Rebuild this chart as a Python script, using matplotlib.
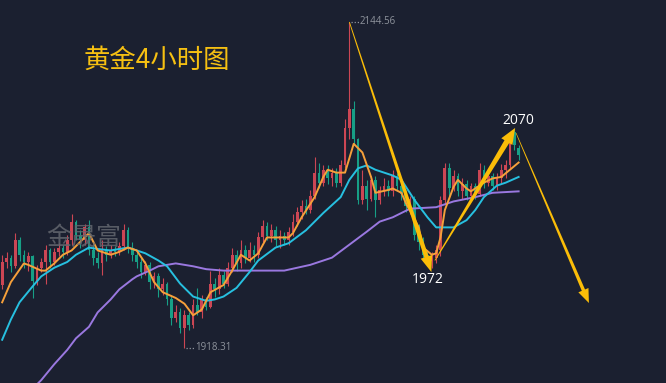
import numpy as np
import matplotlib
matplotlib.use("Agg")
import matplotlib.pyplot as plt
from matplotlib.patches import Polygon

# 4h gold candles, oldest first (prices)
opens = [1962, 1978, 1981, 1975, 1993, 1983, 1978, 1982, 1965, 1974,
         1978, 1986, 1978, 1985, 1988, 1985, 1993, 2006, 1997, 1993,
         2002, 1986, 1981, 1977, 1986, 1983, 1986, 1985, 1989, 2000,
         1988, 1983, 1978, 1971, 1976, 1964, 1968, 1959, 1963, 1952,
         1939, 1943, 1932, 1941, 1934, 1948, 1943, 1952, 1947, 1963,
         1959, 1969, 1963, 1974, 1983, 1977, 1986, 1981, 1986, 1983,
         1995, 2003, 1996, 2000, 1993, 1996, 1993, 1999, 2006, 2013,
         2017, 2014, 2024, 2040, 2033, 2042, 2036, 2040, 2033, 2045,
         2071, 2084, 2063, 2021, 2031, 2022, 2035, 2021, 2028, 2031,
         2027, 2038, 2031, 2025, 2017, 2022, 1997, 1992, 1983, 1979,
         1981, 1986, 2021, 2043, 2029, 2038, 2027, 2032, 2024, 2031,
         2025, 2042, 2033, 2038, 2031, 2036, 2042, 2045, 2068, 2057]
closes = [1978, 1981, 1975, 1993, 1983, 1978, 1982, 1965, 1974, 1978,
          1986, 1978, 1985, 1988, 1985, 1993, 2006, 1997, 1993, 2002,
          1986, 1981, 1977, 1986, 1983, 1986, 1985, 1989, 2000, 1988,
          1983, 1978, 1971, 1976, 1964, 1968, 1959, 1963, 1952, 1939,
          1943, 1932, 1941, 1934, 1948, 1943, 1952, 1947, 1963, 1959,
          1969, 1963, 1974, 1983, 1977, 1986, 1981, 1986, 1983, 1995,
          2003, 1996, 2000, 1993, 1996, 1993, 1999, 2006, 2013, 2017,
          2014, 2024, 2040, 2033, 2042, 2036, 2040, 2033, 2045, 2071,
          2084, 2063, 2021, 2031, 2022, 2035, 2021, 2028, 2031, 2027,
          2038, 2031, 2025, 2017, 2022, 1997, 1992, 1983, 1979, 1981,
          1986, 2021, 2043, 2029, 2038, 2027, 2032, 2024, 2031, 2025,
          2042, 2033, 2038, 2031, 2036, 2042, 2045, 2066, 2059, 2052]
highs = [1983, 1985, 1983, 1998, 1995, 1986, 1985, 1983, 1976, 1981,
         1990, 1988, 1988, 1991, 1990, 1997, 2011, 2007, 2000, 2004,
         2007, 1990, 1985, 1993, 1989, 1990, 1989, 1992, 2004, 2002,
         1992, 1986, 1981, 1979, 1978, 1971, 1970, 1967, 1964, 1955,
         1948, 1946, 1945, 1943, 1952, 1960, 1955, 1954, 1972, 1967,
         1974, 1972, 1978, 1988, 1986, 1993, 1990, 1992, 1990, 1999,
         2007, 2006, 2004, 2003, 2000, 1999, 2002, 2011, 2016, 2021,
         2022, 2028, 2051, 2047, 2045, 2045, 2043, 2043, 2049, 2077,
         2144.56, 2090, 2064, 2042, 2035, 2038, 2038, 2031, 2036, 2035,
         2042, 2040, 2033, 2028, 2024, 2024, 2004, 1995, 1986, 1985,
         1990, 2024, 2047, 2047, 2042, 2040, 2036, 2035, 2033, 2033,
         2047, 2045, 2040, 2040, 2040, 2046, 2049, 2068, 2070, 2059]
lows = [1959, 1974, 1971, 1974, 1979, 1974, 1972, 1953, 1962, 1971,
        1963, 1974, 1976, 1982, 1981, 1983, 1990, 1993, 1988, 1990,
        1983, 1976, 1974, 1969, 1979, 1981, 1982, 1983, 1986, 1984,
        1979, 1974, 1967, 1969, 1959, 1960, 1954, 1955, 1948, 1934,
        1936, 1929, 1918.31, 1931, 1932, 1941, 1939, 1945, 1946, 1954,
        1956, 1960, 1961, 1971, 1972, 1974, 1977, 1978, 1978, 1981,
        1992, 1993, 1992, 1989, 1988, 1990, 1990, 1996, 2003, 2008,
        2011, 2012, 2022, 2029, 2031, 2032, 2031, 2030, 2031, 2043,
        2063, 2059, 2018, 2018, 2014, 2020, 2009, 2018, 2024, 2024,
        2024, 2028, 2021, 2013, 2011, 1993, 1986, 1981, 1975, 1974,
        1977, 1982, 2018, 2024, 2027, 2024, 2022, 2021, 2021, 2022,
        2024, 2029, 2031, 2028, 2028, 2033, 2036, 2043, 2056, 2049]

# moving averages as seen on the chart (bar index, price)
ma_fast_idx = [0, 2, 5, 6, 9, 10, 12, 14, 16, 19, 20, 21, 22, 25, 27, 29, 31, 33, 35, 37,
               40, 42, 44, 46, 48, 51, 53, 55, 57, 59, 61, 63, 66, 67, 69, 72, 74, 75, 77, 79,
               81, 83, 85, 86, 89, 90, 92, 93, 96, 97, 99, 100, 101, 102, 104, 105, 107, 108,
               111, 113, 115, 117, 119]
ma_fast = [1950, 1964, 1977, 1976, 1972, 1972, 1977, 1983, 1986, 1995, 1998, 1992, 1986, 1983,
           1985, 1988, 1986, 1977, 1964, 1957, 1953, 1949, 1941, 1945, 1957, 1962, 1972, 1983,
           1979, 1984, 1995, 1995, 1995, 1998, 2009, 2023, 2037, 2042, 2040, 2040, 2060, 2054,
           2037, 2026, 2028, 2029, 2026, 2019, 2002, 1988, 1983, 1984, 1995, 2014, 2030, 2035,
           2029, 2027, 2033, 2036, 2037, 2042, 2047]
ma_mid_idx = [0, 2, 4, 7, 9, 12, 15, 17, 20, 22, 25, 29, 31, 33, 36, 38, 41, 44, 47, 49,
              51, 54, 57, 59, 63, 66, 70, 74, 78, 80, 82, 84, 86, 90, 92, 95, 98, 100, 104,
              107, 109, 111, 114, 116, 119]
ma_mid = [1924, 1938, 1950, 1961, 1968, 1974, 1978, 1983, 1988, 1987, 1986, 1988, 1986, 1984,
          1979, 1975, 1963, 1954, 1951, 1952, 1954, 1960, 1971, 1979, 1988, 1991, 2000, 2012,
          2023, 2035, 2043, 2045, 2042, 2038, 2035, 2021, 2009, 2002, 2002, 2007, 2014, 2023,
          2031, 2033, 2037]
ma_slow_idx = [8, 9, 12, 15, 17, 20, 22, 25, 27, 30, 31, 34, 36, 40, 44, 47, 51, 58, 65, 71,
               76, 80, 84, 87, 90, 94, 100, 104, 109, 113, 119]
ma_slow = [1893, 1896, 1907, 1917, 1925, 1933, 1943, 1952, 1959, 1966, 1968, 1972, 1975, 1977,
           1975, 1973, 1972, 1972, 1972, 1976, 1981, 1990, 1999, 2006, 2009, 2015, 2016, 2020,
           2023, 2026, 2027]

# hand-drawn swing arrows (bar index, price)
arrow_from = [(80, 2144.56), (99.7, 1979), (118.4, 2067.5)]
arrow_to = [(98.9, 1971), (118.2, 2071), (135.2, 1949.5)]
swing_labels = ["1972", "2070"]
swing_label_pos = [(98.1, 1965.5), (118.9, 2076)]

BG = "#1b2030"
RED = "#cc4654"
GREEN = "#179f86"
AMBER = "#fbbd08"
GREY = "#8e939c"

fig = plt.figure(figsize=(6.66, 3.83), dpi=100, facecolor=BG)
ax = fig.add_axes([0, 0, 1, 1])
ax.set_facecolor(BG)
ax.set_xlim(-0.5, 152.96)
ax.set_ylim(1894.0, 2159.8)
ax.axis("off")

o = np.array(opens, dtype=float)
c = np.array(closes, dtype=float)
h = np.array(highs, dtype=float)
l = np.array(lows, dtype=float)
x = np.arange(len(c))
cols = np.where(c >= o, RED, GREEN)

ax.vlines(x, l, h, colors=cols, lw=0.8, zorder=2)
ax.bar(x, np.maximum(np.abs(c - o), 0.5), bottom=np.minimum(o, c), width=0.62,
       color=cols, lw=0, zorder=2)

ax.plot(ma_slow_idx, ma_slow, color="#9a78e0", lw=1.4, zorder=3)
ax.plot(ma_mid_idx, ma_mid, color="#27c0e0", lw=1.4, zorder=3)
ax.plot(ma_fast_idx, ma_fast, color="#f6a03a", lw=1.4, zorder=3)

# high / low price tags with dotted leader
i_hi, i_lo = int(np.argmax(h)), int(np.argmin(l))
for i, v in [(i_hi, h[i_hi]), (i_lo, l[i_lo])]:
    ax.plot([i + 0.3, i + 2.2], [v, v], color=GREY, lw=0.9, ls=(0, (1, 1.5)), zorder=4)
    ax.text(i + 2.4, v, f"{v:.2f}", color=GREY, fontsize=7, family="Open Sans",
            va="center", ha="left", zorder=4)


def taper_arrow(start, end, w0, w1, head_len, head_w):
    p0 = ax.transData.transform(start)
    p1 = ax.transData.transform(end)
    d = (p1 - p0) / np.hypot(*(p1 - p0))
    n = np.array([-d[1], d[0]])
    b = p1 - d * head_len
    pts = [p0 + n * w0 / 2, b + n * w1 / 2, b + n * head_w / 2, p1,
           b - n * head_w / 2, b - n * w1 / 2, p0 - n * w0 / 2]
    pts = ax.transData.inverted().transform(pts)
    ax.add_patch(Polygon(pts, closed=True, color=AMBER, lw=0, zorder=5))


widths = [(0.8, 4.5, 16, 12), (0.8, 5.5, 16, 13), (0.6, 3.5, 14, 11)]
for s, e, w in zip(arrow_from, arrow_to, widths):
    taper_arrow(s, e, *w)

for txt, (px, py) in zip(swing_labels, swing_label_pos):
    ax.text(px, py, txt, color="white", fontsize=10, family="Open Sans",
            ha="center", va="center", zorder=6)

fig.text(0.126, 0.843, "黄金4小时图", color="#f6c012", fontsize=19,
         family=["Noto Sans CJK SC", "DejaVu Sans"], ha="left", va="center")
fig.text(0.07, 0.379, "金晟富", color="#62666e", alpha=0.85, fontsize=18,
         family=["Noto Sans CJK SC", "DejaVu Sans"], ha="left", va="center", zorder=1)

fig.savefig("out.png", dpi=100, facecolor=BG)
